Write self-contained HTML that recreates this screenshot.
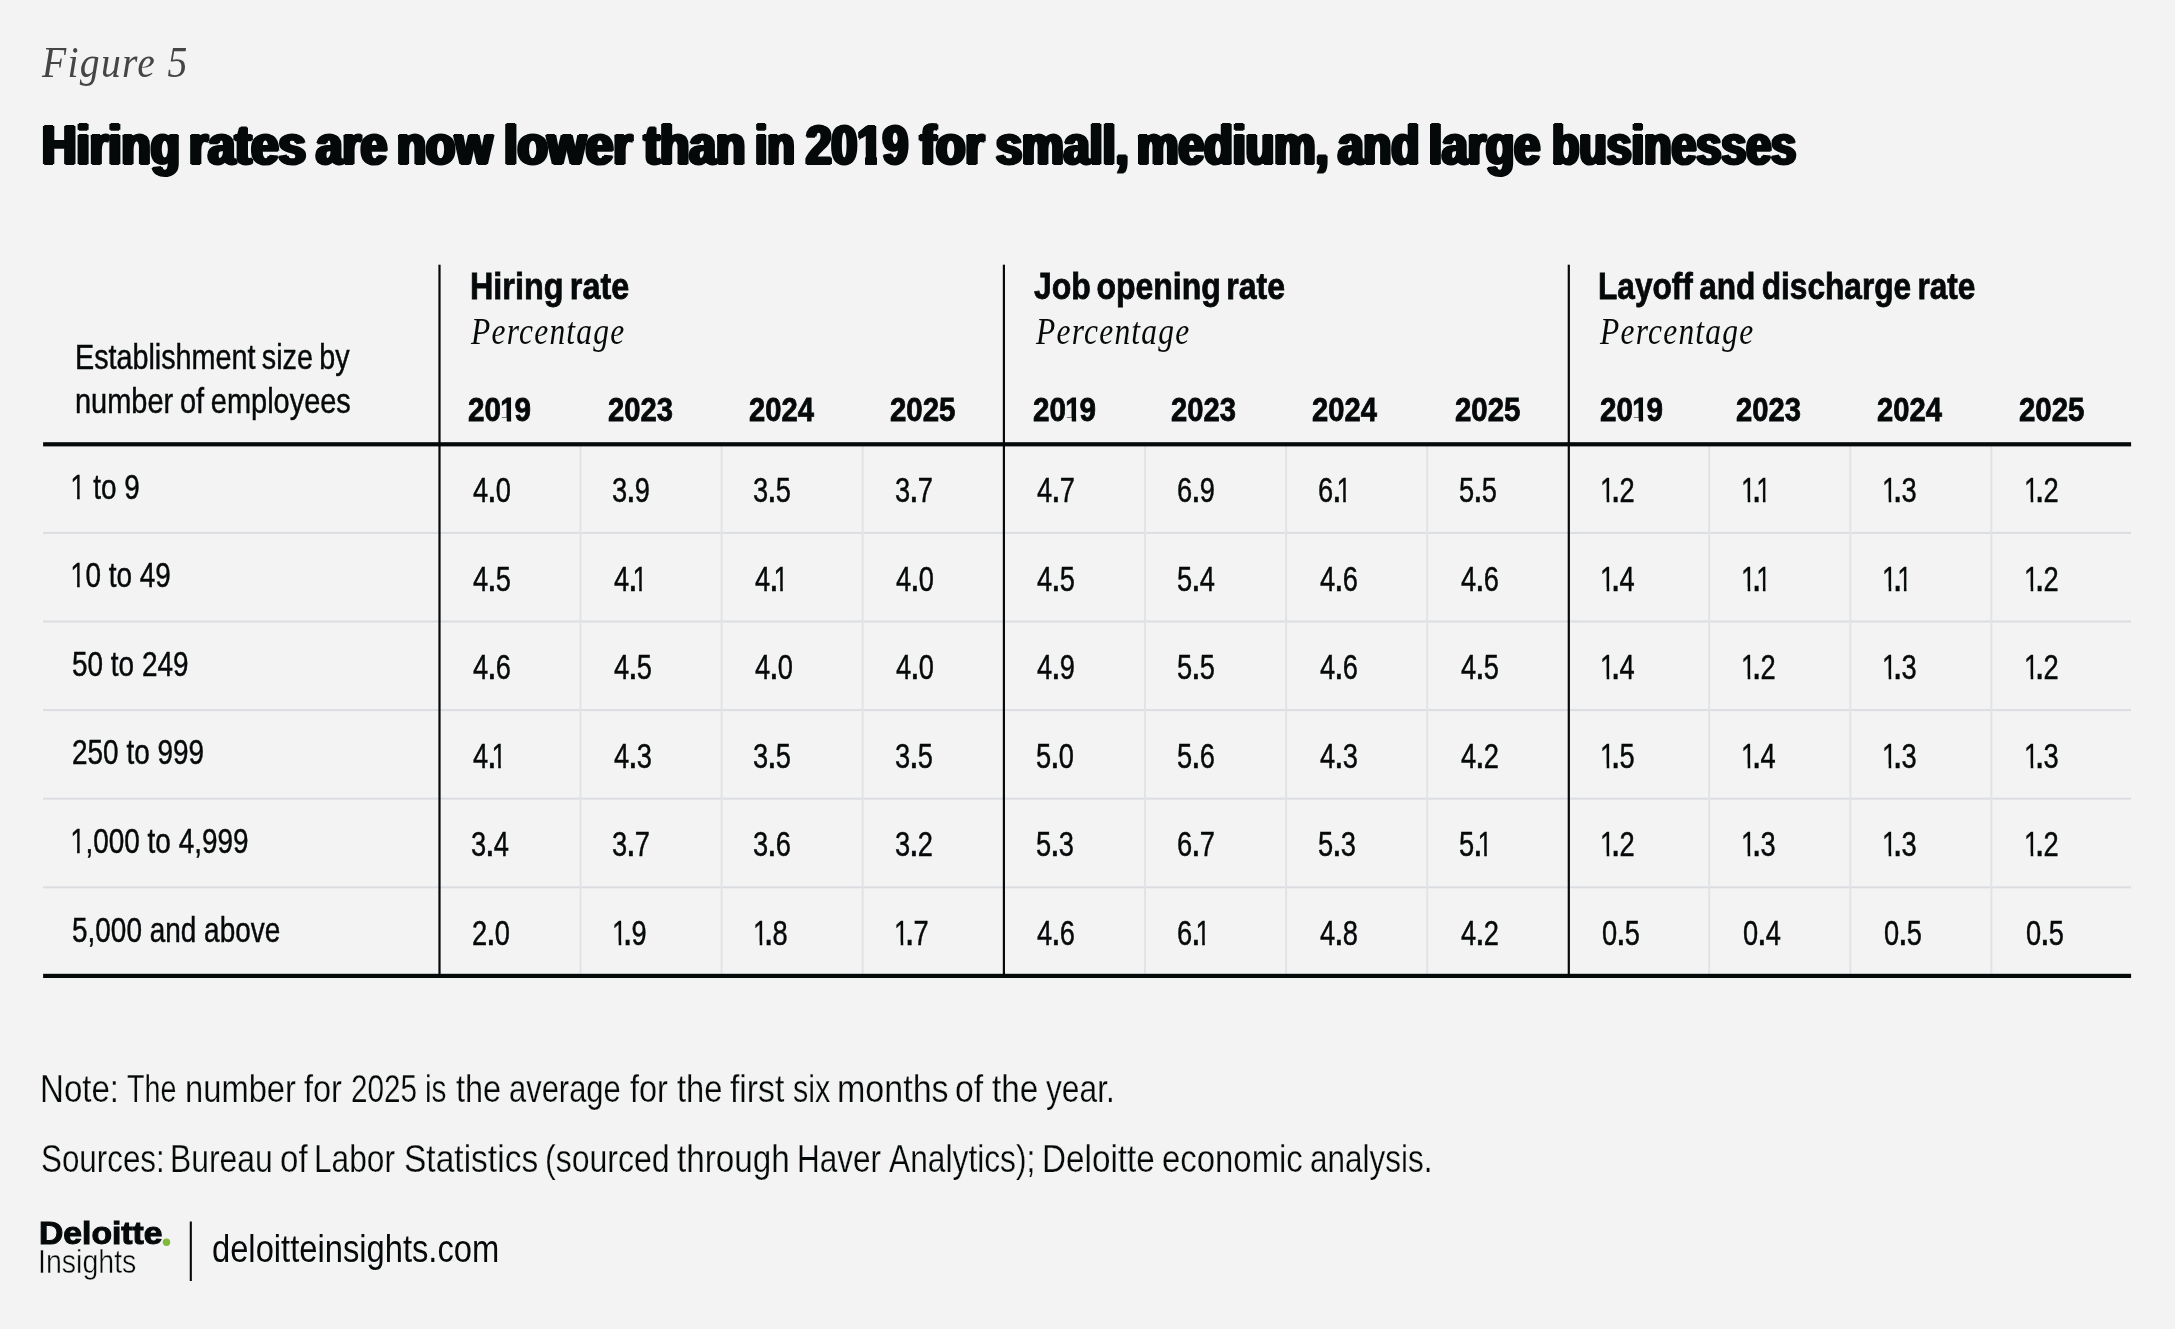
<!DOCTYPE html>
<html><head><meta charset="utf-8"><title>Figure 5</title>
<style>
html,body{margin:0;padding:0;background:#f3f3f3;}
body{width:2175px;height:1329px;position:relative;overflow:hidden;font-family:"Liberation Sans",sans-serif;color:#06090a;}
.t{position:absolute;white-space:nowrap;transform-origin:0 0;line-height:1;}
#page{position:absolute;left:0;top:0;width:2175px;height:1329px;will-change:transform;}
.grp{margin:0;padding:0;height:0;font-size:0;font-weight:400;}
.ln{position:absolute;background:#06090a;}
.g{position:absolute;}
.heavy{-webkit-text-stroke:2.2px #06090a;text-shadow:1.3px 0 0 #06090a,-1.3px 0 0 #06090a,2.6px 0 0 #06090a,-2.6px 0 0 #06090a;}
.semi{-webkit-text-stroke:0.8px #06090a;}
.logo{-webkit-text-stroke:1.1px #06090a;}
.light{-webkit-text-stroke:0.25px #f3f3f3;}
.light2{-webkit-text-stroke:0.45px #f3f3f3;}
.c1{display:inline-block;clip-path:polygon(13% 0,61.5% 0,61.5% 90%,44.8% 90%,44.8% 74.5%,13% 74.5%);margin-right:-0.12em;}
.c1a{margin-left:-0.076em;}
.c1d{margin-left:-0.03em;margin-right:-0.01em;}
.c1b{margin-left:-0.157em;}
.c1c{margin-left:-0.04em;}
.b1{display:inline-block;clip-path:polygon(8.8% 0,68% 0,68% 90%,40.8% 90%,40.8% 72%,8.8% 72%);margin:0 -0.07em 0 -0.03em;}
.h1{display:inline-block;clip-path:polygon(1.8% 0,77.3% 0,77.3% 90.5%,32% 90.5%,32% 66%,1.8% 66%);}
.tb{-webkit-text-stroke:0.45px #06090a;}
.d{font-size:1.36em;line-height:0;margin:0 -0.037em;}


</style></head><body><div id="page">
<svg width="2175" height="1329" viewBox="0 0 2175 1329" style="position:absolute;left:0;top:0"><rect x="43.1" y="531.90" width="2088.0" height="2" fill="#dbdde0"/><rect x="43.1" y="620.50" width="2088.0" height="2" fill="#dbdde0"/><rect x="43.1" y="709.10" width="2088.0" height="2" fill="#dbdde0"/><rect x="43.1" y="797.70" width="2088.0" height="2" fill="#dbdde0"/><rect x="43.1" y="886.30" width="2088.0" height="2" fill="#dbdde0"/><rect x="579.50" y="444.3" width="2" height="531.6" fill="#e2e3e6"/><rect x="720.60" y="444.3" width="2" height="531.6" fill="#e2e3e6"/><rect x="861.70" y="444.3" width="2" height="531.6" fill="#e2e3e6"/><rect x="1144.00" y="444.3" width="2" height="531.6" fill="#e2e3e6"/><rect x="1285.10" y="444.3" width="2" height="531.6" fill="#e2e3e6"/><rect x="1426.20" y="444.3" width="2" height="531.6" fill="#e2e3e6"/><rect x="1708.20" y="444.3" width="2" height="531.6" fill="#e2e3e6"/><rect x="1849.30" y="444.3" width="2" height="531.6" fill="#e2e3e6"/><rect x="1990.40" y="444.3" width="2" height="531.6" fill="#e2e3e6"/><rect x="438.40" y="264.7" width="2.2" height="711.2" fill="#06090a"/><rect x="1002.80" y="264.7" width="2.2" height="711.2" fill="#06090a"/><rect x="1567.70" y="264.7" width="2.2" height="711.2" fill="#06090a"/><rect x="43.1" y="442.20" width="2088.0" height="4.2" fill="#06090a"/><rect x="43.1" y="973.80" width="2088.0" height="4.2" fill="#06090a"/><rect x="189.75" y="1221.5" width="2.1" height="59.5" fill="#06090a"/><circle cx="166.5" cy="1242.2" r="3.7" fill="#80b93a"/></svg>
<div class="t" style="left:42.38px;top:40.22px;font-size:45px;transform:scaleX(0.8801);font-family:'Liberation Serif', serif;font-style:italic;color:#454545;letter-spacing:1.5px;">Figure 5</div>
<h1 class="grp">
<span class="t heavy" style="left:42.45px;top:117.63px;font-size:55.0px;transform:scaleX(0.8674);font-weight:700;">Hiring</span>
<span class="t heavy" style="left:188.54px;top:117.63px;font-size:55.0px;transform:scaleX(0.8880);font-weight:700;">rates</span>
<span class="t heavy" style="left:315.88px;top:117.63px;font-size:55.0px;transform:scaleX(0.8628);font-weight:700;">are</span>
<span class="t heavy" style="left:397.15px;top:117.63px;font-size:55.0px;transform:scaleX(0.8657);font-weight:700;">now</span>
<span class="t heavy" style="left:503.74px;top:117.63px;font-size:55.0px;transform:scaleX(0.8938);font-weight:700;">lower</span>
<span class="t heavy" style="left:643.97px;top:117.63px;font-size:55.0px;transform:scaleX(0.8719);font-weight:700;">than</span>
<span class="t heavy" style="left:755.17px;top:117.63px;font-size:55.0px;transform:scaleX(0.8127);font-weight:700;">in</span>
<span class="t heavy" style="left:806.34px;top:117.63px;font-size:55.0px;transform:scaleX(0.8346);font-weight:700;">20<span class="h1">1</span>9</span>
<span class="t heavy" style="left:919.87px;top:117.63px;font-size:55.0px;transform:scaleX(0.8744);font-weight:700;">for</span>
<span class="t heavy" style="left:995.56px;top:117.63px;font-size:55.0px;transform:scaleX(0.8505);font-weight:700;">small,</span>
<span class="t heavy" style="left:1136.96px;top:117.63px;font-size:55.0px;transform:scaleX(0.8469);font-weight:700;">medium,</span>
<span class="t heavy" style="left:1337.53px;top:117.63px;font-size:55.0px;transform:scaleX(0.8314);font-weight:700;">and</span>
<span class="t heavy" style="left:1428.96px;top:117.63px;font-size:55.0px;transform:scaleX(0.8458);font-weight:700;">large</span>
<span class="t heavy" style="left:1552.07px;top:117.63px;font-size:55.0px;transform:scaleX(0.8148);font-weight:700;">businesses</span>
</h1>
<div class="t semi" style="left:469.59px;top:268.39px;font-size:37.8px;transform:scaleX(0.8557);font-weight:700;word-spacing:-3px;">Hiring rate</div>
<div class="t semi" style="left:1033.50px;top:268.39px;font-size:37.8px;transform:scaleX(0.8464);font-weight:700;word-spacing:-4px;">Job opening rate</div>
<div class="t semi" style="left:1597.63px;top:268.39px;font-size:37.8px;transform:scaleX(0.8369);font-weight:700;word-spacing:-3px;">Layoff and discharge rate</div>
<div class="t" style="left:471.13px;top:312.28px;font-size:38px;transform:scaleX(0.8279);font-family:'Liberation Serif', serif;font-style:italic;letter-spacing:1.5px;">Percentage</div>
<div class="t" style="left:1035.53px;top:312.28px;font-size:38px;transform:scaleX(0.8279);font-family:'Liberation Serif', serif;font-style:italic;letter-spacing:1.5px;">Percentage</div>
<div class="t" style="left:1600.43px;top:312.28px;font-size:38px;transform:scaleX(0.8279);font-family:'Liberation Serif', serif;font-style:italic;letter-spacing:1.5px;">Percentage</div>
<div class="t semi" style="left:468.02px;top:393.34px;font-size:33.5px;transform:scaleX(0.8843);font-weight:700;">20<span class="b1">1</span>9</div>
<div class="t semi" style="left:607.63px;top:393.34px;font-size:33.5px;transform:scaleX(0.8711);font-weight:700;">2023</div>
<div class="t semi" style="left:748.73px;top:393.34px;font-size:33.5px;transform:scaleX(0.8702);font-weight:700;">2024</div>
<div class="t semi" style="left:890.32px;top:393.34px;font-size:33.5px;transform:scaleX(0.8780);font-weight:700;">2025</div>
<div class="t semi" style="left:1032.62px;top:393.34px;font-size:33.5px;transform:scaleX(0.8843);font-weight:700;">20<span class="b1">1</span>9</div>
<div class="t semi" style="left:1170.93px;top:393.34px;font-size:33.5px;transform:scaleX(0.8711);font-weight:700;">2023</div>
<div class="t semi" style="left:1312.43px;top:393.34px;font-size:33.5px;transform:scaleX(0.8702);font-weight:700;">2024</div>
<div class="t semi" style="left:1454.52px;top:393.34px;font-size:33.5px;transform:scaleX(0.8780);font-weight:700;">2025</div>
<div class="t semi" style="left:1600.42px;top:393.34px;font-size:33.5px;transform:scaleX(0.8843);font-weight:700;">20<span class="b1">1</span>9</div>
<div class="t semi" style="left:1735.53px;top:393.34px;font-size:33.5px;transform:scaleX(0.8711);font-weight:700;">2023</div>
<div class="t semi" style="left:1877.03px;top:393.34px;font-size:33.5px;transform:scaleX(0.8702);font-weight:700;">2024</div>
<div class="t semi" style="left:2019.12px;top:393.34px;font-size:33.5px;transform:scaleX(0.8780);font-weight:700;">2025</div>
<div class="t tb" style="left:75.13px;top:339.69px;font-size:34.5px;transform:scaleX(0.8328);word-spacing:-2px;">Establishment size by</div>
<div class="t tb" style="left:74.92px;top:383.79px;font-size:34.5px;transform:scaleX(0.8390);word-spacing:-1.5px;">number of employees</div>
<div class="t tb" style="left:70.98px;top:469.69px;font-size:34.5px;transform:scaleX(0.8100);"><span class="c1 c1d">1</span> to 9</div>
<div class="t tb" style="left:472.90px;top:472.99px;font-size:34.5px;transform:scaleX(0.7900);">4<span class="d">.</span>0</div>
<div class="t tb" style="left:612.30px;top:472.99px;font-size:34.5px;transform:scaleX(0.7900);">3<span class="d">.</span>9</div>
<div class="t tb" style="left:753.40px;top:472.99px;font-size:34.5px;transform:scaleX(0.7900);">3<span class="d">.</span>5</div>
<div class="t tb" style="left:894.50px;top:472.99px;font-size:34.5px;transform:scaleX(0.7900);">3<span class="d">.</span>7</div>
<div class="t tb" style="left:1037.30px;top:472.99px;font-size:34.5px;transform:scaleX(0.7900);">4<span class="d">.</span>7</div>
<div class="t tb" style="left:1176.90px;top:472.99px;font-size:34.5px;transform:scaleX(0.7900);">6<span class="d">.</span>9</div>
<div class="t tb" style="left:1318.00px;top:472.99px;font-size:34.5px;transform:scaleX(0.7900);">6<span class="d">.</span><span class="c1 c1b">1</span></div>
<div class="t tb" style="left:1459.10px;top:472.99px;font-size:34.5px;transform:scaleX(0.7900);">5<span class="d">.</span>5</div>
<div class="t tb" style="left:1602.20px;top:472.99px;font-size:34.5px;transform:scaleX(0.7900);"><span class="c1 c1a">1</span><span class="d">.</span>2</div>
<div class="t tb" style="left:1743.30px;top:472.99px;font-size:34.5px;transform:scaleX(0.7900);"><span class="c1 c1a">1</span><span class="d">.</span><span class="c1 c1b">1</span></div>
<div class="t tb" style="left:1884.40px;top:472.99px;font-size:34.5px;transform:scaleX(0.7900);"><span class="c1 c1a">1</span><span class="d">.</span>3</div>
<div class="t tb" style="left:2025.50px;top:472.99px;font-size:34.5px;transform:scaleX(0.7900);"><span class="c1 c1a">1</span><span class="d">.</span>2</div>
<div class="t tb" style="left:70.98px;top:558.29px;font-size:34.5px;transform:scaleX(0.8100);"><span class="c1 c1d">1</span>0 to 49</div>
<div class="t tb" style="left:472.90px;top:561.59px;font-size:34.5px;transform:scaleX(0.7900);">4<span class="d">.</span>5</div>
<div class="t tb" style="left:614.00px;top:561.59px;font-size:34.5px;transform:scaleX(0.7900);">4<span class="d">.</span><span class="c1 c1b">1</span></div>
<div class="t tb" style="left:755.10px;top:561.59px;font-size:34.5px;transform:scaleX(0.7900);">4<span class="d">.</span><span class="c1 c1b">1</span></div>
<div class="t tb" style="left:896.20px;top:561.59px;font-size:34.5px;transform:scaleX(0.7900);">4<span class="d">.</span>0</div>
<div class="t tb" style="left:1037.30px;top:561.59px;font-size:34.5px;transform:scaleX(0.7900);">4<span class="d">.</span>5</div>
<div class="t tb" style="left:1176.90px;top:561.59px;font-size:34.5px;transform:scaleX(0.7900);">5<span class="d">.</span>4</div>
<div class="t tb" style="left:1319.50px;top:561.59px;font-size:34.5px;transform:scaleX(0.7900);">4<span class="d">.</span>6</div>
<div class="t tb" style="left:1460.60px;top:561.59px;font-size:34.5px;transform:scaleX(0.7900);">4<span class="d">.</span>6</div>
<div class="t tb" style="left:1602.20px;top:561.59px;font-size:34.5px;transform:scaleX(0.7900);"><span class="c1 c1a">1</span><span class="d">.</span>4</div>
<div class="t tb" style="left:1743.30px;top:561.59px;font-size:34.5px;transform:scaleX(0.7900);"><span class="c1 c1a">1</span><span class="d">.</span><span class="c1 c1b">1</span></div>
<div class="t tb" style="left:1884.40px;top:561.59px;font-size:34.5px;transform:scaleX(0.7900);"><span class="c1 c1a">1</span><span class="d">.</span><span class="c1 c1b">1</span></div>
<div class="t tb" style="left:2025.50px;top:561.59px;font-size:34.5px;transform:scaleX(0.7900);"><span class="c1 c1a">1</span><span class="d">.</span>2</div>
<div class="t tb" style="left:71.79px;top:646.89px;font-size:34.5px;transform:scaleX(0.8100);">50 to 249</div>
<div class="t tb" style="left:472.90px;top:650.19px;font-size:34.5px;transform:scaleX(0.7900);">4<span class="d">.</span>6</div>
<div class="t tb" style="left:614.00px;top:650.19px;font-size:34.5px;transform:scaleX(0.7900);">4<span class="d">.</span>5</div>
<div class="t tb" style="left:755.10px;top:650.19px;font-size:34.5px;transform:scaleX(0.7900);">4<span class="d">.</span>0</div>
<div class="t tb" style="left:896.20px;top:650.19px;font-size:34.5px;transform:scaleX(0.7900);">4<span class="d">.</span>0</div>
<div class="t tb" style="left:1037.30px;top:650.19px;font-size:34.5px;transform:scaleX(0.7900);">4<span class="d">.</span>9</div>
<div class="t tb" style="left:1176.90px;top:650.19px;font-size:34.5px;transform:scaleX(0.7900);">5<span class="d">.</span>5</div>
<div class="t tb" style="left:1319.50px;top:650.19px;font-size:34.5px;transform:scaleX(0.7900);">4<span class="d">.</span>6</div>
<div class="t tb" style="left:1460.60px;top:650.19px;font-size:34.5px;transform:scaleX(0.7900);">4<span class="d">.</span>5</div>
<div class="t tb" style="left:1602.20px;top:650.19px;font-size:34.5px;transform:scaleX(0.7900);"><span class="c1 c1a">1</span><span class="d">.</span>4</div>
<div class="t tb" style="left:1743.30px;top:650.19px;font-size:34.5px;transform:scaleX(0.7900);"><span class="c1 c1a">1</span><span class="d">.</span>2</div>
<div class="t tb" style="left:1884.40px;top:650.19px;font-size:34.5px;transform:scaleX(0.7900);"><span class="c1 c1a">1</span><span class="d">.</span>3</div>
<div class="t tb" style="left:2025.50px;top:650.19px;font-size:34.5px;transform:scaleX(0.7900);"><span class="c1 c1a">1</span><span class="d">.</span>2</div>
<div class="t tb" style="left:71.79px;top:735.49px;font-size:34.5px;transform:scaleX(0.8100);">250 to 999</div>
<div class="t tb" style="left:472.90px;top:738.79px;font-size:34.5px;transform:scaleX(0.7900);">4<span class="d">.</span><span class="c1 c1b">1</span></div>
<div class="t tb" style="left:614.00px;top:738.79px;font-size:34.5px;transform:scaleX(0.7900);">4<span class="d">.</span>3</div>
<div class="t tb" style="left:753.40px;top:738.79px;font-size:34.5px;transform:scaleX(0.7900);">3<span class="d">.</span>5</div>
<div class="t tb" style="left:894.50px;top:738.79px;font-size:34.5px;transform:scaleX(0.7900);">3<span class="d">.</span>5</div>
<div class="t tb" style="left:1035.80px;top:738.79px;font-size:34.5px;transform:scaleX(0.7900);">5<span class="d">.</span>0</div>
<div class="t tb" style="left:1176.90px;top:738.79px;font-size:34.5px;transform:scaleX(0.7900);">5<span class="d">.</span>6</div>
<div class="t tb" style="left:1319.50px;top:738.79px;font-size:34.5px;transform:scaleX(0.7900);">4<span class="d">.</span>3</div>
<div class="t tb" style="left:1460.60px;top:738.79px;font-size:34.5px;transform:scaleX(0.7900);">4<span class="d">.</span>2</div>
<div class="t tb" style="left:1602.20px;top:738.79px;font-size:34.5px;transform:scaleX(0.7900);"><span class="c1 c1a">1</span><span class="d">.</span>5</div>
<div class="t tb" style="left:1743.30px;top:738.79px;font-size:34.5px;transform:scaleX(0.7900);"><span class="c1 c1a">1</span><span class="d">.</span>4</div>
<div class="t tb" style="left:1884.40px;top:738.79px;font-size:34.5px;transform:scaleX(0.7900);"><span class="c1 c1a">1</span><span class="d">.</span>3</div>
<div class="t tb" style="left:2025.50px;top:738.79px;font-size:34.5px;transform:scaleX(0.7900);"><span class="c1 c1a">1</span><span class="d">.</span>3</div>
<div class="t tb" style="left:70.98px;top:824.09px;font-size:34.5px;transform:scaleX(0.8100);"><span class="c1 c1d">1</span>,000 to 4,999</div>
<div class="t tb" style="left:471.20px;top:827.39px;font-size:34.5px;transform:scaleX(0.7900);">3<span class="d">.</span>4</div>
<div class="t tb" style="left:612.30px;top:827.39px;font-size:34.5px;transform:scaleX(0.7900);">3<span class="d">.</span>7</div>
<div class="t tb" style="left:753.40px;top:827.39px;font-size:34.5px;transform:scaleX(0.7900);">3<span class="d">.</span>6</div>
<div class="t tb" style="left:894.50px;top:827.39px;font-size:34.5px;transform:scaleX(0.7900);">3<span class="d">.</span>2</div>
<div class="t tb" style="left:1035.80px;top:827.39px;font-size:34.5px;transform:scaleX(0.7900);">5<span class="d">.</span>3</div>
<div class="t tb" style="left:1176.90px;top:827.39px;font-size:34.5px;transform:scaleX(0.7900);">6<span class="d">.</span>7</div>
<div class="t tb" style="left:1318.00px;top:827.39px;font-size:34.5px;transform:scaleX(0.7900);">5<span class="d">.</span>3</div>
<div class="t tb" style="left:1459.10px;top:827.39px;font-size:34.5px;transform:scaleX(0.7900);">5<span class="d">.</span><span class="c1 c1b">1</span></div>
<div class="t tb" style="left:1602.20px;top:827.39px;font-size:34.5px;transform:scaleX(0.7900);"><span class="c1 c1a">1</span><span class="d">.</span>2</div>
<div class="t tb" style="left:1743.30px;top:827.39px;font-size:34.5px;transform:scaleX(0.7900);"><span class="c1 c1a">1</span><span class="d">.</span>3</div>
<div class="t tb" style="left:1884.40px;top:827.39px;font-size:34.5px;transform:scaleX(0.7900);"><span class="c1 c1a">1</span><span class="d">.</span>3</div>
<div class="t tb" style="left:2025.50px;top:827.39px;font-size:34.5px;transform:scaleX(0.7900);"><span class="c1 c1a">1</span><span class="d">.</span>2</div>
<div class="t tb" style="left:71.79px;top:912.69px;font-size:34.5px;transform:scaleX(0.8100);">5,000 and above</div>
<div class="t tb" style="left:472.10px;top:915.99px;font-size:34.5px;transform:scaleX(0.7900);">2<span class="d">.</span>0</div>
<div class="t tb" style="left:614.00px;top:915.99px;font-size:34.5px;transform:scaleX(0.7900);"><span class="c1 c1a">1</span><span class="d">.</span>9</div>
<div class="t tb" style="left:755.10px;top:915.99px;font-size:34.5px;transform:scaleX(0.7900);"><span class="c1 c1a">1</span><span class="d">.</span>8</div>
<div class="t tb" style="left:896.20px;top:915.99px;font-size:34.5px;transform:scaleX(0.7900);"><span class="c1 c1a">1</span><span class="d">.</span>7</div>
<div class="t tb" style="left:1037.30px;top:915.99px;font-size:34.5px;transform:scaleX(0.7900);">4<span class="d">.</span>6</div>
<div class="t tb" style="left:1176.90px;top:915.99px;font-size:34.5px;transform:scaleX(0.7900);">6<span class="d">.</span><span class="c1 c1b">1</span></div>
<div class="t tb" style="left:1319.50px;top:915.99px;font-size:34.5px;transform:scaleX(0.7900);">4<span class="d">.</span>8</div>
<div class="t tb" style="left:1460.60px;top:915.99px;font-size:34.5px;transform:scaleX(0.7900);">4<span class="d">.</span>2</div>
<div class="t tb" style="left:1602.20px;top:915.99px;font-size:34.5px;transform:scaleX(0.7900);">0<span class="d">.</span>5</div>
<div class="t tb" style="left:1743.30px;top:915.99px;font-size:34.5px;transform:scaleX(0.7900);">0<span class="d">.</span>4</div>
<div class="t tb" style="left:1884.40px;top:915.99px;font-size:34.5px;transform:scaleX(0.7900);">0<span class="d">.</span>5</div>
<div class="t tb" style="left:2025.50px;top:915.99px;font-size:34.5px;transform:scaleX(0.7900);">0<span class="d">.</span>5</div>
<p class="grp">
<span class="t light" style="left:39.54px;top:1069.55px;font-size:38.8px;transform:scaleX(0.8522);">Note:</span>
<span class="t light" style="left:126.60px;top:1069.55px;font-size:38.8px;transform:scaleX(0.7384);">The</span>
<span class="t light" style="left:184.51px;top:1069.55px;font-size:38.8px;transform:scaleX(0.8432);">number</span>
<span class="t light" style="left:304.10px;top:1069.55px;font-size:38.8px;transform:scaleX(0.8378);">for</span>
<span class="t light" style="left:350.63px;top:1069.55px;font-size:38.8px;transform:scaleX(0.7655);">2025</span>
<span class="t light" style="left:425.06px;top:1069.55px;font-size:38.8px;transform:scaleX(0.7677);">is</span>
<span class="t light" style="left:455.90px;top:1069.55px;font-size:38.8px;transform:scaleX(0.8366);">the</span>
<span class="t light" style="left:509.20px;top:1069.55px;font-size:38.8px;transform:scaleX(0.7971);">average</span>
<span class="t light" style="left:630.00px;top:1069.55px;font-size:38.8px;transform:scaleX(0.8356);">for</span>
<span class="t light" style="left:676.60px;top:1069.55px;font-size:38.8px;transform:scaleX(0.8423);">the</span>
<span class="t light" style="left:730.00px;top:1069.55px;font-size:38.8px;transform:scaleX(0.8690);">first</span>
<span class="t light" style="left:793.01px;top:1069.55px;font-size:38.8px;transform:scaleX(0.7867);">six</span>
<span class="t light" style="left:836.85px;top:1069.55px;font-size:38.8px;transform:scaleX(0.8770);">months</span>
<span class="t light" style="left:955.03px;top:1069.55px;font-size:38.8px;transform:scaleX(0.8709);">of</span>
<span class="t light" style="left:992.00px;top:1069.55px;font-size:38.8px;transform:scaleX(0.8576);">the</span>
<span class="t light" style="left:1045.50px;top:1069.55px;font-size:38.8px;transform:scaleX(0.8176);">year.</span>
</p>
<p class="grp">
<span class="t light" style="left:41.29px;top:1139.95px;font-size:38.8px;transform:scaleX(0.8083);">Sources:</span>
<span class="t light" style="left:169.64px;top:1139.95px;font-size:38.8px;transform:scaleX(0.8216);">Bureau</span>
<span class="t light" style="left:279.85px;top:1139.95px;font-size:38.8px;transform:scaleX(0.8519);">of</span>
<span class="t light" style="left:314.45px;top:1139.95px;font-size:38.8px;transform:scaleX(0.8161);">Labor</span>
<span class="t light" style="left:403.94px;top:1139.95px;font-size:38.8px;transform:scaleX(0.8644);">Statistics</span>
<span class="t light" style="left:544.55px;top:1139.95px;font-size:38.8px;transform:scaleX(0.8258);">(sourced</span>
<span class="t light" style="left:677.20px;top:1139.95px;font-size:38.8px;transform:scaleX(0.8569);">through</span>
<span class="t light" style="left:796.56px;top:1139.95px;font-size:38.8px;transform:scaleX(0.8124);">Haver</span>
<span class="t light" style="left:889.30px;top:1139.95px;font-size:38.8px;transform:scaleX(0.8180);">Analytics);</span>
<span class="t light" style="left:1041.93px;top:1139.95px;font-size:38.8px;transform:scaleX(0.8577);">Deloitte</span>
<span class="t light" style="left:1161.95px;top:1139.95px;font-size:38.8px;transform:scaleX(0.8479);">economic</span>
<span class="t light" style="left:1310.19px;top:1139.95px;font-size:38.8px;transform:scaleX(0.8120);">analysis.</span>
</p>
<div class="t logo" style="left:38.90px;top:1217.21px;font-size:32.0px;transform:scaleX(1.0520);font-weight:700;">Deloitte</div>
<div class="t light2" style="left:38.39px;top:1245.83px;font-size:32.8px;transform:scaleX(0.8702);">Insights</div>
<div class="t" style="left:212.35px;top:1229.50px;font-size:38.5px;transform:scaleX(0.8494);">deloitteinsights.com</div>
</div></body></html>
